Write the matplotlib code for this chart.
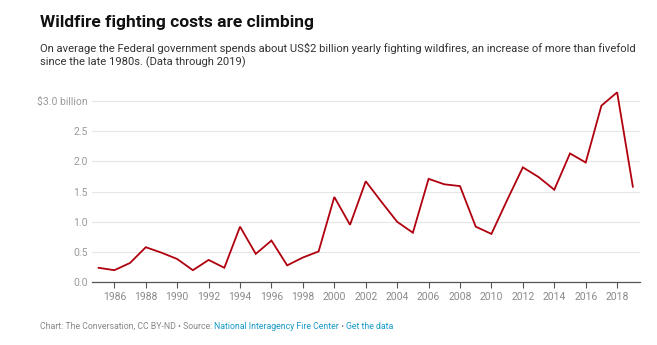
import matplotlib.pyplot as plt

# Federal wildfire suppression costs, billions of US dollars
years = list(range(1985, 2020))
costs = [0.24, 0.20, 0.32, 0.58, 0.49, 0.385, 0.20, 0.37, 0.24, 0.92,
         0.47, 0.69, 0.28, 0.41, 0.51, 1.41, 0.95, 1.67, 1.33, 1.00,
         0.82, 1.71, 1.62, 1.59, 0.92, 0.80, 1.36, 1.90, 1.74, 1.53,
         2.13, 1.98, 2.92, 3.14, 1.58]

x_ticks = list(range(1986, 2019, 2))
y_ticks = [0.0, 0.5, 1.0, 1.5, 2.0, 2.5, 3.0]
y_labels = ['0.0', '0.5', '1.0', '1.5', '2.0', '2.5', '$3.0 billion']

plt.rcParams['font.family'] = ['Roboto', 'DejaVu Sans']

fig = plt.figure(figsize=(6.57, 3.45), dpi=100)
ax = fig.add_axes([0.1396, 0.1817, 0.8344, 0.5612])

ax.plot(years, costs, color='#b0000f', linewidth=1.3, solid_joinstyle='miter')

ax.set_xlim(1984.56, 2019.45)
ax.set_ylim(0, 3.2)

ax.set_yticks(y_ticks)
ax.set_yticklabels(y_labels)
ax.set_xticks(x_ticks)
ax.set_xticklabels([str(y) for y in x_ticks])

ax.grid(axis='y', color='#e6e6e6', linewidth=0.8)
ax.set_axisbelow(True)
for side in ['top', 'right', 'left']:
    ax.spines[side].set_visible(False)
ax.spines['bottom'].set_color('#555555')
ax.spines['bottom'].set_linewidth(0.9)

ax.tick_params(axis='y', length=0, pad=3, labelsize=7.5, labelcolor='#9a9a9a')
ax.tick_params(axis='x', length=4, width=0.8, color='#555555', pad=3,
               labelsize=7.5, labelcolor='#8a8a8a')

fig.text(0.061, 0.935, 'Wildfire fighting costs are climbing', fontsize=12.5,
         fontweight='bold', color='#111111', va='center')
fig.text(0.061, 0.84,
         'On average the Federal government spends about US$2 billion yearly fighting wildfires, an increase of more than fivefold\n'
         'since the late 1980s. (Data through 2019)',
         fontsize=8.15, color='#333333', va='center', linespacing=1.25)

# footer with source credits
footer_y = 0.055
t1 = fig.text(0.061, footer_y, 'Chart: The Conversation, CC BY-ND \u2022 Source: ',
              fontsize=6.3, color='#888888', va='center')
fig.canvas.draw()
r = fig.canvas.get_renderer()
bb = t1.get_window_extent(r)
x2 = bb.x1 / fig.bbox.width
t2 = fig.text(x2, footer_y, 'National Interagency Fire Center', fontsize=6.3,
              color='#1a9ac6', va='center')
bb2 = t2.get_window_extent(r)
x3 = bb2.x1 / fig.bbox.width
t3 = fig.text(x3, footer_y, ' \u2022 ', fontsize=6.3, color='#888888', va='center')
bb3 = t3.get_window_extent(r)
fig.text(bb3.x1 / fig.bbox.width, footer_y, 'Get the data', fontsize=6.3,
         color='#1a9ac6', va='center')

fig.savefig('out.png', dpi=100)
